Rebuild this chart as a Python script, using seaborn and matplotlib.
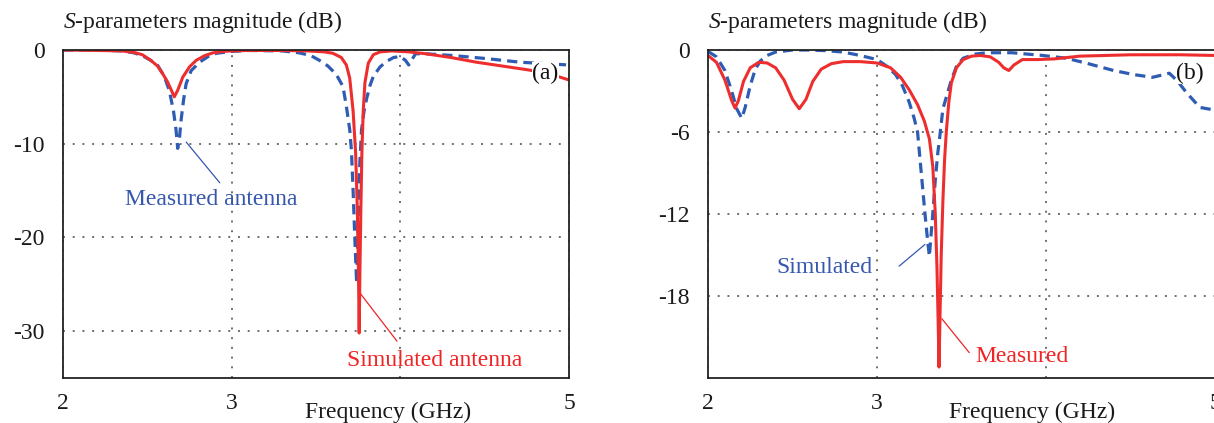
import matplotlib
matplotlib.use("Agg")
import matplotlib.pyplot as plt
import seaborn as sns
import pandas as pd

# ---------------- Panel (a) ----------------
a_sim_f = [2.0, 2.2, 2.35, 2.42, 2.47, 2.52, 2.56, 2.59, 2.62, 2.645, 2.66, 2.68, 2.71, 2.75, 2.79,
           2.84, 2.89, 2.95, 3.0, 3.1, 3.3, 3.45, 3.55, 3.6, 3.65, 3.68, 3.70, 3.72, 3.735, 3.745,
           3.752, 3.756, 3.760, 3.766, 3.772, 3.78, 3.79, 3.81, 3.84, 3.88, 3.95, 4.05, 4.15, 4.3,
           4.45, 4.6, 4.75, 4.85, 4.93, 5.0]
a_sim_db = [0.0, -0.05, -0.1, -0.25, -0.5, -1.1, -1.7, -2.5, -3.4, -4.4, -5.0, -4.3, -2.9, -1.8, -1.1,
            -0.6, -0.3, -0.15, -0.1, -0.05, -0.05, -0.1, -0.2, -0.35, -0.8, -1.6, -3.0, -6.5, -11, -17,
            -24, -30.2, -24, -17, -11, -6.5, -3.5, -1.4, -0.5, -0.2, -0.1, -0.2, -0.4, -0.8,
            -1.3, -1.7, -2.1, -2.4, -2.8, -3.2]
a_meas_f = [2.0, 2.2, 2.35, 2.42, 2.47, 2.52, 2.56, 2.6, 2.63, 2.655, 2.67, 2.68, 2.69, 2.70, 2.715,
            2.73, 2.76, 2.81, 2.86, 2.91, 3.0, 3.1, 3.3, 3.4, 3.47, 3.52, 3.57, 3.62, 3.66, 3.68,
            3.70, 3.71, 3.72, 3.73, 3.741, 3.75, 3.76, 3.77, 3.785, 3.80, 3.82, 3.84, 3.88, 3.92,
            3.96, 4.0, 4.03, 4.05, 4.07, 4.09, 4.15, 4.32, 4.5, 4.71, 4.85, 5.0]
a_meas_db = [0.0, 0.0, -0.1, -0.3, -0.6, -1.1, -1.6, -2.8, -4.3, -6.5, -8.5, -10.5, -9.5, -7.5, -5.3,
             -3.6, -2.2, -1.3, -0.7, -0.35, -0.15, -0.05, -0.1, -0.3, -0.6, -1.1, -1.7, -2.6, -3.9, -6.0,
             -8.5, -10.7, -15, -20, -24.9, -18, -12, -8.5, -6.5, -5.2, -3.8, -2.8, -1.8, -1.2,
             -0.8, -0.7, -1.1, -1.6, -1.0, -0.4, -0.4, -0.6, -0.9, -1.3, -1.45, -1.6]

# ---------------- Panel (b) ----------------
b_meas_f = [2.0, 2.05, 2.1, 2.14, 2.16, 2.18, 2.21, 2.25, 2.3, 2.35, 2.4, 2.45, 2.5, 2.54, 2.58,
            2.62, 2.67, 2.73, 2.8, 2.9, 3.0, 3.08, 3.14, 3.19, 3.24, 3.28, 3.31, 3.33, 3.345, 3.355,
            3.362, 3.367, 3.372, 3.38, 3.39, 3.40, 3.41, 3.425, 3.44, 3.47, 3.51, 3.56, 3.61, 3.67,
            3.72, 3.75, 3.78, 3.81, 3.86, 3.95, 4.05, 4.2, 4.5, 4.8, 5.0]
b_meas_db = [-0.4, -0.9, -2.2, -3.7, -4.25, -3.7, -2.3, -1.3, -0.9, -0.95, -1.3, -2.2, -3.6, -4.3, -3.6,
             -2.3, -1.4, -1.0, -0.85, -0.85, -0.95, -1.3, -2.0, -2.9, -4.0, -5.2, -6.5, -8.5, -12, -16,
             -20, -23.2, -20, -15, -11, -8, -6, -3.8, -2.4, -1.3, -0.7, -0.45, -0.4, -0.5,
             -0.9, -1.3, -1.5, -1.1, -0.7, -0.7, -0.65, -0.45, -0.35, -0.35, -0.4]
b_sim_f = [2.0, 2.05, 2.1, 2.14, 2.17, 2.20, 2.22, 2.25, 2.28, 2.31, 2.35, 2.4, 2.5, 2.6, 2.7,
           2.8, 2.9, 3.0, 3.06, 3.11, 3.15, 3.19, 3.22, 3.24, 3.262, 3.284, 3.30, 3.31, 3.32, 3.33,
           3.345, 3.36, 3.37, 3.39, 3.44, 3.47, 3.51, 3.58, 3.65, 3.8, 3.98, 4.12, 4.25, 4.4,
           4.52, 4.63, 4.73, 4.78, 4.83, 4.91, 5.0]
b_sim_db = [-0.1, -0.5, -1.5, -3.0, -4.3, -5.0, -4.2, -2.6, -1.4, -0.8, -0.4, -0.15, 0.0, 0.0, -0.05,
            -0.15, -0.4, -0.7, -1.2, -1.8, -2.6, -3.8, -5.0, -6.0, -9.0, -12, -14, -15.1, -13.5, -12,
            -9.5, -7.5, -6.5, -4.3, -2.2, -1.2, -0.6, -0.3, -0.2, -0.2, -0.4, -0.6, -1.0, -1.5,
            -1.8, -2.0, -1.7, -2.3, -3.1, -4.2, -4.4]

a_yticks = [0, -10, -20, -30]
b_yticks = [0, -6, -12, -18]
x_ticks = [2, 3, 4, 5]
x_ticklabels = ["2", "3", "", "5"]

RED = "#EE2E2E"
BLUE = "#2F5CB3"
TXT_RED = "#F02424"
TXT_BLUE = "#3557AE"

sns.set_theme(style="white")
plt.rcParams["font.family"] = ["Liberation Serif", "DejaVu Serif"]
plt.rcParams["mathtext.fontset"] = "custom"
plt.rcParams["mathtext.it"] = "Liberation Serif:italic"
plt.rcParams["mathtext.rm"] = "Liberation Serif"

W, H = 1214, 423
fig = plt.figure(figsize=(W / 100, H / 100), dpi=100)
ax1 = fig.add_axes([63 / W, 45 / H, 506 / W, 328 / H])
ax2 = fig.add_axes([708 / W, 45 / H, 507 / W, 328 / H])


def style_axes(ax, yticks, ylim):
    ax.set_xlim(2, 5)
    ax.set_ylim(*ylim)
    ax.set_xticks(x_ticks)
    ax.set_xticklabels(x_ticklabels)
    ax.set_yticks(yticks)
    ax.set_yticklabels([str(v) for v in yticks])
    ax.grid(True, linestyle=(0, (1, 4)), color="#6e6e6e", lw=1.4)
    ax.tick_params(axis="both", length=0, labelsize=17, colors="#1a1a1a")
    ax.tick_params(axis="x", pad=11)
    ax.tick_params(axis="y", pad=13)
    for sp in ax.spines.values():
        sp.set_visible(True)
        sp.set_color("#222222")
        sp.set_linewidth(1.3)
    ax.set_xlabel("")
    ax.set_ylabel("")
    ax.text(0, 1.085, r"$\mathit{S}$-parameters magnitude (dB)", transform=ax.transAxes,
            ha="left", va="center", fontsize=17, color="#1a1a1a")


def draw(ax, fd, yd, fs, ys):
    df_d = pd.DataFrame({"f": fd, "db": yd})
    df_s = pd.DataFrame({"f": fs, "db": ys})
    sns.lineplot(data=df_d, x="f", y="db", ax=ax, color=BLUE, lw=2.3,
                 linestyle=(0, (3.2, 1.9)), sort=False, estimator=None)
    sns.lineplot(data=df_s, x="f", y="db", ax=ax, color=RED, lw=2.2,
                 sort=False, estimator=None)


# Panel (a): red solid = simulated, blue dashed = measured
draw(ax1, a_meas_f, a_meas_db, a_sim_f, a_sim_db)
style_axes(ax1, a_yticks, (-35, 0))
ax1.annotate("", xy=(2.72, -9.6), xytext=(2.94, -14.4),
             arrowprops=dict(arrowstyle="-", color=TXT_BLUE, lw=0.9))
ax1.text(2.88, -16.0, "Measured antenna", color=TXT_BLUE, fontsize=17, ha="center", va="center")
ax1.annotate("", xy=(3.755, -25.8), xytext=(3.99, -31.3),
             arrowprops=dict(arrowstyle="-", color=TXT_RED, lw=0.9))
ax1.text(4.205, -33.1, "Simulated antenna", color=TXT_RED, fontsize=17, ha="center", va="center")
ax1.text(4.86, -2.45, "(a)", fontsize=17, ha="center", va="center", color="#111111",
         bbox=dict(facecolor="white", edgecolor="none", pad=0.2))
ax1.annotate("Frequency (GHz)", xy=(3.93, -0.122), xycoords=("data", "axes fraction"),
             ha="center", va="baseline", fontsize=17, color="#1a1a1a", annotation_clip=False)

# Panel (b): red solid = measured, blue dashed = simulated
draw(ax2, b_sim_f, b_sim_db, b_meas_f, b_meas_db)
style_axes(ax2, b_yticks, (-24, 0))
ax2.annotate("", xy=(3.296, -14.1), xytext=(3.118, -15.95),
             arrowprops=dict(arrowstyle="-", color=TXT_BLUE, lw=0.9))
ax2.text(2.69, -15.95, "Simulated", color=TXT_BLUE, fontsize=17, ha="center", va="center")
ax2.annotate("", xy=(3.373, -19.5), xytext=(3.556, -22.3),
             arrowprops=dict(arrowstyle="-", color=TXT_RED, lw=0.9))
ax2.text(3.86, -22.4, "Measured", color=TXT_RED, fontsize=17, ha="center", va="center")
ax2.text(4.85, -1.68, "(b)", fontsize=17, ha="center", va="center", color="#111111",
         bbox=dict(facecolor="white", edgecolor="none", pad=0.2))
ax2.annotate("Frequency (GHz)", xy=(3.917, -0.122), xycoords=("data", "axes fraction"),
             ha="center", va="baseline", fontsize=17, color="#1a1a1a", annotation_clip=False)

fig.savefig("out.png", dpi=100, facecolor="white")
